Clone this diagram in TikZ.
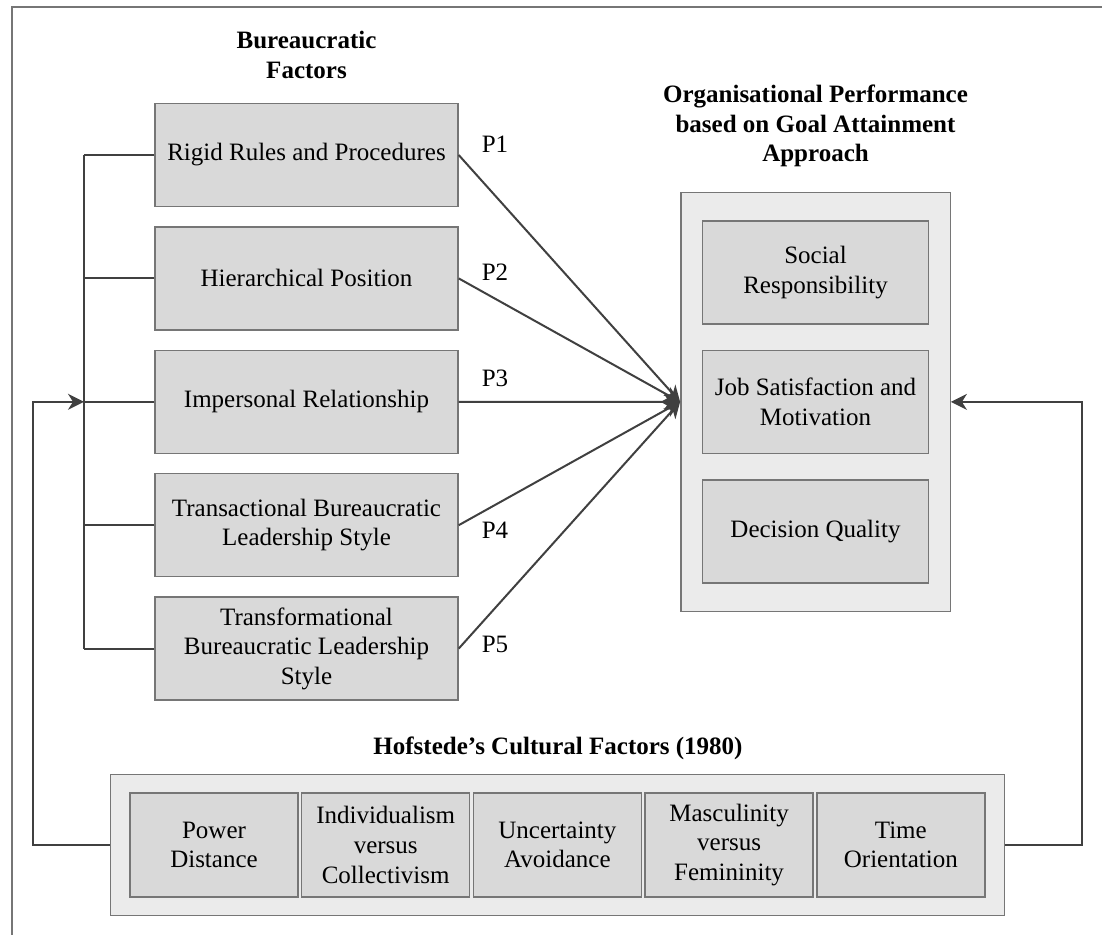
\documentclass[tikz,border=0pt]{standalone}
\usepackage{fontspec}
\setmainfont{Liberation Serif}
\usetikzlibrary{positioning, arrows.meta, fit, backgrounds}
\definecolor{boxgray}{RGB}{217,217,217}
\definecolor{panelgray}{RGB}{235,235,235}
\definecolor{edgegray}{RGB}{118,118,118}
\definecolor{linegray}{RGB}{64,64,64}
\tikzset{
  factbox/.style  = {draw=edgegray, fill=boxgray, line width=0.7pt,
                     minimum width=151.5pt, minimum height=51.5pt,
                     align=center, font=\fontsize{12.5}{14.8}\selectfont},
  perfbox/.style  = {factbox, minimum width=113pt},
  cultbox/.style  = {factbox, minimum width=84pt, minimum height=52pt},
  panelbox/.style = {draw=edgegray, fill=panelgray, line width=0.7pt},
  headtxt/.style  = {align=center, font=\fontsize{12.5}{14.8}\selectfont\bfseries},
  ptxt/.style     = {font=\fontsize{12.5}{14.8}\selectfont},
  link/.style     = {line width=1pt, draw=linegray},
  proparr/.style  = {link, -{Stealth[length=8pt, width=8pt, inset=2.5pt]}},
}

\begin{document}
\begin{tikzpicture}[x=0.5pt, y=-0.5pt]
    \useasboundingbox (0,0) rectangle (1102,935);
    \draw[edgegray, line width=0.6pt] (12,935) -- (12,7) -- (1102,7);
    % Bureaucratic factors
    \node[headtxt] (bhead) at (306.5,55) {Bureaucratic\\Factors};
    \node[factbox] (rigid) at (306.5,155) {Rigid Rules and Procedures};
    \node[factbox, below=9.5pt of rigid] (hier) {Hierarchical Position};
    \node[factbox, below=9.5pt of hier] (impers) {Impersonal Relationship};
    \node[factbox, below=9.5pt of impers] (transa) {Transactional Bureaucratic\\Leadership Style};
    \node[factbox, below=9.5pt of transa] (transf) {Transformational\\Bureaucratic Leadership\\Style};
    \coordinate (busx) at (84,0);
    \foreach \b in {rigid, hier, impers, transa, transf}
      \draw[link] (\b.west) -- (\b.west -| busx);
    \draw[link] (rigid.west -| busx) -- (transf.west -| busx);
    % Organisational performance
    \node[headtxt] (phead) at (815.5,126) {Organisational Performance\\based on Goal Attainment\\Approach};
    \node[perfbox] (social) at (815.5,272.5) {Social\\Responsibility};
    \node[perfbox, below=12.5pt of social] (jobsat) {Job Satisfaction and\\Motivation};
    \node[perfbox, below=12.5pt of jobsat] (decis) {Decision Quality};
    \begin{scope}[on background layer]
      \node[panelbox, fit=(social)(decis), inner xsep=10.5pt, inner ysep=14pt] (perf) {};
    \end{scope}
    \foreach \b in {rigid, hier, impers, transa, transf}
      \draw[proparr] (\b.east) -- (perf.west);
    \node[ptxt] (p1) at (495,144) {P1};
    \node[ptxt] (p2) at (495,272) {P2};
    \node[ptxt] (p3) at (495,378) {P3};
    \node[ptxt] (p4) at (495,530) {P4};
    \node[ptxt] (p5) at (495,644) {P5};
    % Cultural factors
    \node[headtxt] (chead) at (558,748) {Hofstede’s Cultural Factors (1980)};
    \foreach \i/\txt in {1/{Power\\Distance}, 2/{Individualism\\versus\\Collectivism},
                         3/{Uncertainty\\Avoidance}, 4/{Masculinity\\versus\\Femininity},
                         5/{Time\\Orientation}}
      \node[cultbox] (c\i) at (42.3+171.7*\i,845) {\txt};
    \begin{scope}[on background layer]
      \node[panelbox, fit=(c1)(c5), inner xsep=9.5pt, inner ysep=9pt] (cult) {};
    \end{scope}
    \coordinate (fbl) at (33,0);
    \coordinate (fbr) at (1082,0);
    \draw[proparr] (cult.west) -| (fbl |- impers.west) -- (impers.west -| busx);
    \draw[proparr] (cult.east) -| (fbr |- perf.east) -- (perf.east);
\end{tikzpicture}
\end{document}
